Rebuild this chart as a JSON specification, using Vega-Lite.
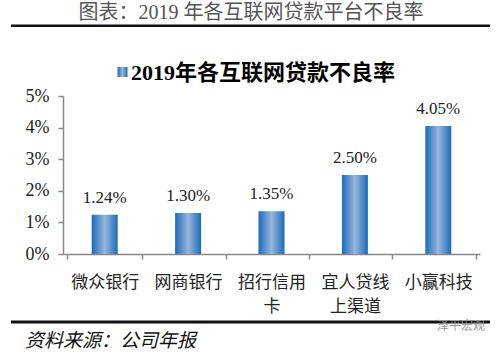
{
  "$schema": "https://vega.github.io/schema/vega-lite/v6.json",
  "width": 417,
  "height": 158,
  "autosize": "none",
  "padding": {"left": 63, "top": 96, "right": 19, "bottom": 101},
  "background": "white",
  "config": {
    "view": {"stroke": null},
    "font": "Liberation Serif, Noto Sans CJK SC",
    "axis": {
      "domainColor": "#888888",
      "domainWidth": 1.5,
      "tickColor": "#888888",
      "tickWidth": 1.5,
      "tickSize": 5,
      "grid": false,
      "labelColor": "#222222",
      "labelFont": "Liberation Serif, Noto Sans CJK SC",
      "labelOverlap": false,
      "title": null
    }
  },
  "data": {
    "values": [
      {"平台": "微众银行", "不良率": 0.0124},
      {"平台": "网商银行", "不良率": 0.0130},
      {"平台": "招行信用卡", "不良率": 0.0135},
      {"平台": "宜人贷线上渠道", "不良率": 0.0250},
      {"平台": "小赢科技", "不良率": 0.0405}
    ]
  },
  "resolve": {"scale": {"x": "independent"}, "axis": {"x": "independent"}},
  "layer": [
    {
      "mark": {"type": "bar", "size": 26,
        "color": {"gradient": "linear", "x1": 0, "y1": 0, "x2": 1, "y2": 0,
          "stops": [{"offset": 0, "color": "#1a6cbd"}, {"offset": 0.5, "color": "#98b6da"}, {"offset": 1, "color": "#1a6cbd"}]}},
      "encoding": {
        "x": {
          "field": "平台", "type": "nominal", "sort": null,
          "axis": {
            "labelAngle": 0, "labelFontSize": 17, "labelPadding": 15,
            "labelLineHeight": 24, "labelBaseline": "top", "tickBand": "extent",
            "labelExpr": "datum.label == '招行信用卡' ? ['招行信用','卡'] : datum.label == '宜人贷线上渠道' ? ['宜人贷线','上渠道'] : datum.label"
          }
        },
        "y": {
          "field": "不良率", "type": "quantitative",
          "scale": {"domain": [0, 0.05], "nice": false},
          "axis": {"values": [0, 0.01, 0.02, 0.03, 0.04, 0.05], "format": ".0%", "labelFontSize": 18, "labelPadding": 9, "labelOverlap": false}
        }
      }
    },
    {
      "mark": {"type": "text", "dy": -12, "baseline": "alphabetic", "fontSize": 17, "color": "#222222", "font": "Liberation Serif"},
      "encoding": {
        "x": {"field": "平台", "type": "nominal", "sort": null, "axis": null},
        "y": {"field": "不良率", "type": "quantitative", "scale": {"domain": [0, 0.05], "nice": false},
          "axis": {"values": [0, 0.01, 0.02, 0.03, 0.04, 0.05], "format": ".0%", "labelFontSize": 18, "labelPadding": 9, "labelOverlap": false}},
        "text": {"field": "不良率", "type": "quantitative", "format": ".2%"}
      }
    },
    {
      "data": {"values": [{}]},
      "mark": {"type": "tick", "orient": "horizontal", "size": 479, "thickness": 2.5, "fill": "#111111", "opacity": 1},
      "encoding": {
        "x": {"datum": 0.4496, "type": "quantitative", "scale": {"domain": [0, 1]}, "axis": null},
        "y": {"datum": 0.0722, "type": "quantitative", "scale": {"domain": [0, 0.05], "nice": false},
          "axis": {"values": [0, 0.01, 0.02, 0.03, 0.04, 0.05], "format": ".0%", "labelFontSize": 18, "labelPadding": 9, "labelOverlap": false}}
      }
    },
    {
      "data": {"values": [{}]},
      "mark": {"type": "rule", "stroke": "#111111", "strokeWidth": 3, "opacity": 1},
      "encoding": {
        "x": {"datum": -0.125, "type": "quantitative", "scale": {"domain": [0, 1]}, "axis": null},
        "x2": {"datum": 1.024},
        "y": {"datum": -0.0215, "type": "quantitative", "scale": {"domain": [0, 0.05], "nice": false},
          "axis": {"values": [0, 0.01, 0.02, 0.03, 0.04, 0.05], "format": ".0%", "labelFontSize": 18, "labelPadding": 9, "labelOverlap": false}}
      }
    },
    {
      "data": {"values": [{}]},
      "mark": {"type": "square", "size": 100, "opacity": 1,
        "color": {"gradient": "linear", "x1": 0, "y1": 0, "x2": 1, "y2": 0,
          "stops": [{"offset": 0, "color": "#1a6cbd"}, {"offset": 0.5, "color": "#98b6da"}, {"offset": 1, "color": "#1a6cbd"}]}},
      "encoding": {
        "x": {"datum": 0.1427, "type": "quantitative", "scale": {"domain": [0, 1]}, "axis": null},
        "y": {"datum": 0.0576, "type": "quantitative", "scale": {"domain": [0, 0.05], "nice": false},
          "axis": {"values": [0, 0.01, 0.02, 0.03, 0.04, 0.05], "format": ".0%", "labelFontSize": 18, "labelPadding": 9, "labelOverlap": false}}
      }
    },
    {
      "data": {"values": [{}]},
      "mark": {"type": "text", "align": "left", "baseline": "middle", "fontSize": 22, "fontWeight": "bold", "color": "#000000", "font": "Liberation Serif, Noto Sans CJK SC"},
      "encoding": {
        "x": {"datum": 0.163, "type": "quantitative", "scale": {"domain": [0, 1]}, "axis": null},
        "y": {"datum": 0.0574, "type": "quantitative", "scale": {"domain": [0, 0.05], "nice": false},
          "axis": {"values": [0, 0.01, 0.02, 0.03, 0.04, 0.05], "format": ".0%", "labelFontSize": 18, "labelPadding": 9, "labelOverlap": false}},
        "text": {"value": "2019年各互联网贷款不良率"}
      }
    },
    {
      "data": {"values": [{}]},
      "mark": {"type": "text", "align": "center", "baseline": "middle", "fontSize": 20, "color": "#555555", "font": "Liberation Serif, Noto Sans CJK SC"},
      "encoding": {
        "x": {"datum": 0.451, "type": "quantitative", "scale": {"domain": [0, 1]}, "axis": null},
        "y": {"datum": 0.0762, "type": "quantitative", "scale": {"domain": [0, 0.05], "nice": false},
          "axis": {"values": [0, 0.01, 0.02, 0.03, 0.04, 0.05], "format": ".0%", "labelFontSize": 18, "labelPadding": 9, "labelOverlap": false}},
        "text": {"value": "图表：2019 年各互联网贷款平台不良率"}
      }
    },
    {
      "data": {"values": [{}]},
      "mark": {"type": "text", "align": "left", "baseline": "middle", "fontSize": 19, "fontStyle": "italic", "color": "#111111", "font": "Liberation Serif, Noto Sans CJK SC"},
      "encoding": {
        "x": {"datum": -0.091, "type": "quantitative", "scale": {"domain": [0, 1]}, "axis": null},
        "y": {"datum": -0.0275, "type": "quantitative", "scale": {"domain": [0, 0.05], "nice": false},
          "axis": {"values": [0, 0.01, 0.02, 0.03, 0.04, 0.05], "format": ".0%", "labelFontSize": 18, "labelPadding": 9, "labelOverlap": false}},
        "text": {"value": "资料来源：公司年报"}
      }
    },
    {
      "data": {"values": [{}]},
      "mark": {"type": "text", "align": "right", "baseline": "middle", "fontSize": 12, "color": "#999999", "font": "Noto Sans CJK SC"},
      "encoding": {
        "x": {"datum": 1.012, "type": "quantitative", "scale": {"domain": [0, 1]}, "axis": null},
        "y": {"datum": -0.0228, "type": "quantitative", "scale": {"domain": [0, 0.05], "nice": false},
          "axis": {"values": [0, 0.01, 0.02, 0.03, 0.04, 0.05], "format": ".0%", "labelFontSize": 18, "labelPadding": 9, "labelOverlap": false}},
        "text": {"value": "泽平宏观"}
      }
    }
  ]
}
